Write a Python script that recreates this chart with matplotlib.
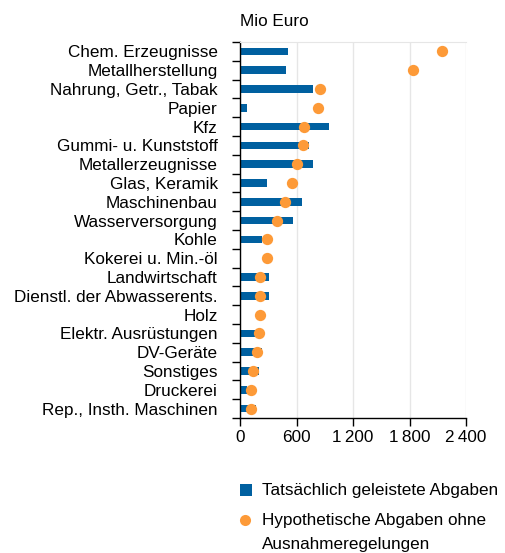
import matplotlib
matplotlib.use("Agg")
import matplotlib.pyplot as plt
from matplotlib.lines import Line2D
from matplotlib.patches import Rectangle

plt.rcParams['font.family'] = ['Liberation Sans', 'DejaVu Sans']

categories = ["Chem. Erzeugnisse", "Metallherstellung", "Nahrung, Getr., Tabak", "Papier", "Kfz",
              "Gummi- u. Kunststoff", "Metallerzeugnisse", "Glas, Keramik", "Maschinenbau",
              "Wasserversorgung", "Kohle", "Kokerei u. Min.-öl", "Landwirtschaft",
              "Dienstl. der Abwasserents.", "Holz", "Elektr. Ausrüstungen", "DV-Geräte",
              "Sonstiges", "Druckerei", "Rep., Insth. Maschinen"]
actual = [510, 489, 775, 74, 945, 733, 775, 283, 658, 563, 230, 15, 308, 308, 15, 240, 234, 202, 70, 170]
hypothetical = [2145, 1834, 846, 828, 680, 665, 605, 549, 478, 396, 283, 283, 216, 212, 209, 205, 180, 138, 117, 113]
xticks = [0, 600, 1200, 1800, 2400]
xticklabels = ["0", "600", "1\u2009200", "1\u2009800", "2\u2009400"]
legend_labels = ["Tatsächlich geleistete Abgaben", "Hypothetische Abgaben ohne", "Ausnahmeregelungen"]

blue = "#0060a0"
orange = "#fd9a38"
fs = 12.3

W, H = 506, 553
fig = plt.figure(figsize=(W / 100, H / 100), dpi=100)
ax = fig.add_axes([240 / W, 1 - 418 / H, 226 / W, 376 / H])

n = len(categories)
y = list(range(n))
ax.barh(y, actual, height=0.4, color=blue, zorder=2)
ax.scatter(hypothetical, y, s=66, color=orange, zorder=3, linewidths=0)

ax.set_ylim(n - 0.5, -0.5)
ax.set_xlim(0, 2400)
ax.set_xticks(xticks)
ax.set_xticklabels(xticklabels, fontsize=fs)
ax.set_yticks([i - 0.5 for i in range(n + 1)])
ax.set_yticklabels([])
ax.set_yticks(y, minor=True)
ax.set_yticklabels(categories, minor=True, fontsize=fs)
ax.tick_params(axis='y', which='major', length=6, width=1, color='black')
ax.tick_params(axis='y', which='minor', length=0, pad=16)
ax.tick_params(axis='x', length=6, width=1, color='black', pad=3)

ax.grid(axis='x', color='#e6e6e6', linewidth=1, zorder=0)
ax.set_axisbelow(True)
for s in ['left', 'bottom']:
    ax.spines[s].set_color('black')
    ax.spines[s].set_linewidth(1)
ax.spines['top'].set_color('#e6e6e6')
ax.spines['right'].set_visible(False)

fig.text(240 / W, 1 - 22 / H, "Mio Euro", fontsize=fs, ha='left', va='center')

# legend drawn manually
fig.add_artist(Rectangle((240 / W, 1 - 496 / H), 12 / W, 12 / H,
                         transform=fig.transFigure, facecolor=blue, edgecolor='none'))
fig.add_artist(Line2D([245.5 / W], [1 - 520 / H], transform=fig.transFigure, marker='o',
                      linestyle='none', markerfacecolor=orange, markeredgecolor='none',
                      markersize=8))
fig.text(262 / W, 1 - 490 / H, legend_labels[0], fontsize=fs, ha='left', va='center')
fig.text(262 / W, 1 - 520 / H, legend_labels[1], fontsize=fs, ha='left', va='center')
fig.text(262 / W, 1 - 544 / H, legend_labels[2], fontsize=fs, ha='left', va='center')

fig.savefig("out.png", dpi=100)
